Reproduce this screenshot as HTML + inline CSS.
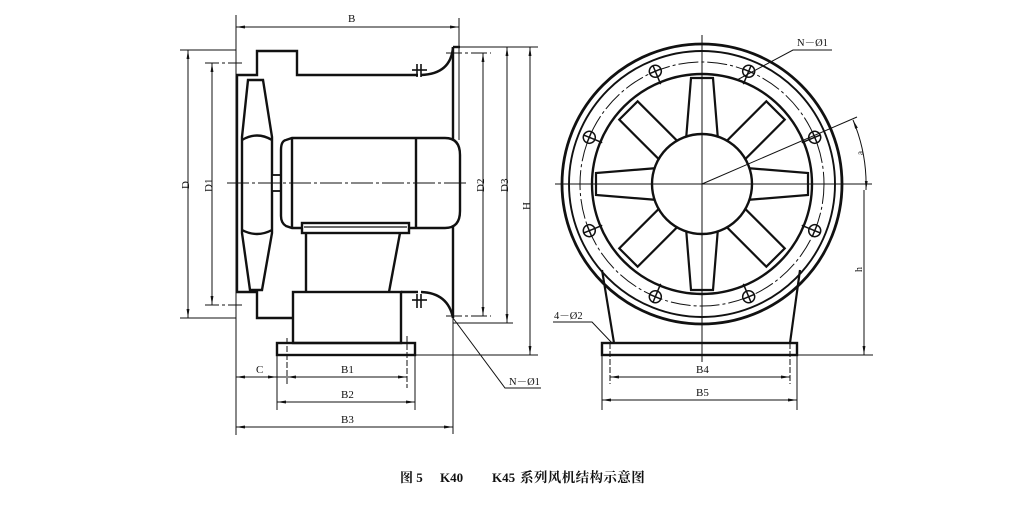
<!DOCTYPE html>
<html><head><meta charset="utf-8"><style>
html,body{margin:0;padding:0;background:#fff;}
svg{display:block;}
text{font-family:"Liberation Serif","Noto Serif CJK SC",serif;fill:#111;}
</style></head><body>
<svg width="1024" height="509" viewBox="0 0 1024 509" xmlns="http://www.w3.org/2000/svg">
<defs>
<marker id="a" viewBox="0 0 10 4" refX="10" refY="2" markerWidth="9" markerHeight="4" orient="auto-start-reverse" markerUnits="userSpaceOnUse">
<path d="M0,0.4 L10,2 L0,3.6 z" fill="#111"/></marker>
</defs>
<rect width="1024" height="509" fill="#fff"/>

<!-- thin lines left view (behind) -->
<g stroke="#111" stroke-width="1" fill="none">
 <line x1="236" y1="15" x2="236" y2="435"/>
 <line x1="459" y1="18" x2="459" y2="140"/>
 <line x1="453" y1="318" x2="453" y2="434"/>
</g>

<!-- ============ LEFT VIEW ============ -->
<g stroke="#111" stroke-width="2.4" fill="none" stroke-linejoin="miter">
 <!-- casing top -->
 <polyline points="236,75 257,75 257,51 297,51 297,75 418,75"/>
 <path d="M421,75 Q451,74 453,47"/>
 <line x1="453" y1="47" x2="460" y2="47"/>
 <line x1="453" y1="47" x2="453" y2="318"/>
 <!-- casing bottom -->
 <polyline points="236,292 257,292 257,318 293,318"/>
 <line x1="401" y1="292" x2="418" y2="292"/>
 <path d="M421,292 Q448,293 453,318"/>
 <!-- left wall -->
 <line x1="237" y1="75" x2="237" y2="292"/>
 <!-- fan blade -->
 <path d="M248,80 L263,80 L272,137 L272,233 L262,290 L250,290 L242,233 L242,137 Z" fill="#fff"/>
 <path d="M242,140 Q257,131 272,140"/>
 <path d="M242,230 Q257,238 272,230"/>
 <!-- shaft -->
 <rect x="272" y="175" width="9" height="16" stroke-width="1.8" fill="#fff"/>
 <!-- motor -->
 <path d="M292,138 L445,138 Q460,138 460,155 L460,211 Q460,228 445,228 L292,228 L286,226 Q281,223 281,216 L281,150 Q281,141 286,140 Z" fill="#fff"/>
 <line x1="292" y1="138" x2="292" y2="228"/>
 <line x1="416" y1="138" x2="416" y2="228"/>
 <!-- motor foot -->
 <rect x="302" y="223" width="107" height="10" fill="#fff"/>
 <line x1="304" y1="227" x2="407" y2="227" stroke-width="1.2"/>
 <!-- stand -->
 <line x1="306" y1="233" x2="306" y2="292"/>
 <line x1="400" y1="233" x2="389" y2="292"/>
 <rect x="293" y="292" width="108" height="51"/>
 <rect x="277" y="343" width="138" height="12"/>
</g>
<!-- flange marks -->
<g stroke="#111" stroke-width="1.6">
 <line x1="417" y1="64" x2="417" y2="77"/><line x1="421" y1="64" x2="421" y2="77"/>
 <line x1="412" y1="70" x2="427" y2="70"/>
 <line x1="417" y1="294" x2="417" y2="308"/><line x1="421" y1="294" x2="421" y2="308"/>
 <line x1="412" y1="300" x2="427" y2="300"/>
</g>
<!-- thin lines left view -->
<g stroke="#111" stroke-width="1" fill="none">
 <line x1="227" y1="183" x2="467" y2="183" stroke-dasharray="22,3,3,3"/>
 <!-- B -->
 <line x1="236" y1="27" x2="459" y2="27" marker-start="url(#a)" marker-end="url(#a)"/>
 <!-- D -->
 <line x1="180" y1="50" x2="236" y2="50"/>
 <line x1="180" y1="318" x2="236" y2="318"/>
 <line x1="188" y1="50" x2="188" y2="318" marker-start="url(#a)" marker-end="url(#a)"/>
 <!-- D1 -->
 <line x1="205" y1="63" x2="244" y2="63" stroke-dasharray="14,3,3,3"/>
 <line x1="205" y1="305" x2="244" y2="305" stroke-dasharray="14,3,3,3"/>
 <line x1="212" y1="63" x2="212" y2="305" marker-start="url(#a)" marker-end="url(#a)"/>
 <!-- D2 -->
 <line x1="446" y1="53" x2="491" y2="53" stroke-dasharray="16,3,3,3"/>
 <line x1="446" y1="316" x2="491" y2="316" stroke-dasharray="16,3,3,3"/>
 <line x1="483" y1="53" x2="483" y2="316" marker-start="url(#a)" marker-end="url(#a)"/>
 <!-- D3 / H -->
 <line x1="453" y1="47" x2="538" y2="47"/>
 <line x1="453" y1="323" x2="513" y2="323"/>
 <line x1="507" y1="47" x2="507" y2="323" marker-start="url(#a)" marker-end="url(#a)"/>
 <line x1="415" y1="355" x2="538" y2="355"/>
 <line x1="530" y1="47" x2="530" y2="355" marker-start="url(#a)" marker-end="url(#a)"/>
 <!-- N-Ø1 leader -->
 <polyline points="453,318 505,388 541,388"/>
 <!-- bottom dims -->
 <line x1="277" y1="355" x2="277" y2="410"/>
 <line x1="415" y1="355" x2="415" y2="410"/>
 <line x1="287" y1="338" x2="287" y2="386" stroke-dasharray="6,2"/>
 <line x1="407" y1="336" x2="407" y2="388" stroke-dasharray="6,2"/>
 <line x1="236" y1="377" x2="277" y2="377" marker-start="url(#a)" marker-end="url(#a)"/>
 <line x1="277" y1="377" x2="287" y2="377"/>
 <line x1="287" y1="377" x2="407" y2="377" marker-start="url(#a)" marker-end="url(#a)"/>
 <line x1="277" y1="402" x2="415" y2="402" marker-start="url(#a)" marker-end="url(#a)"/>
 <line x1="236" y1="427" x2="453" y2="427" marker-start="url(#a)" marker-end="url(#a)"/>
</g>
<g font-size="11">
 <text x="348" y="22">B</text>
 <text x="256" y="373">C</text>
 <text x="341" y="373">B1</text>
 <text x="341" y="398">B2</text>
 <text x="341" y="423">B3</text>
 <text transform="translate(189,189) rotate(-90)">D</text>
 <text transform="translate(212,192) rotate(-90)">D1</text>
 <text transform="translate(484,192) rotate(-90)">D2</text>
 <text transform="translate(508,192) rotate(-90)">D3</text>
 <text transform="translate(530,210) rotate(-90)">H</text>
 <text x="509" y="385" font-size="10.5">N－Ø1</text>
</g>

<!-- ============ RIGHT VIEW ============ -->
<g stroke="#111" fill="none">
 <!-- stand -->
 <line x1="602" y1="270" x2="614" y2="343" stroke-width="2.2"/>
 <line x1="800" y1="270" x2="790" y2="343" stroke-width="2.2"/>
 <rect x="602" y="343" width="195" height="12" stroke-width="2.4" fill="#fff"/>
 <circle cx="702" cy="184" r="140" stroke-width="2.8"/>
 <circle cx="702" cy="184" r="133" stroke-width="1.9"/>
 <circle cx="702" cy="184" r="122" stroke-width="1" stroke-dasharray="20,3,3,3"/>
 <circle cx="702" cy="184" r="110" stroke-width="2.4"/>
</g>
<!-- blades -->
<g stroke="#111" stroke-width="2.2" fill="#fff" transform="translate(702,184)">
 <polygon points="-16,-44 16,-44 11,-106 -11,-106"/>
 <polygon points="-16,-44 16,-44 11,-106 -11,-106" transform="rotate(90)"/>
 <polygon points="-16,-44 16,-44 11,-106 -11,-106" transform="rotate(180)"/>
 <polygon points="-16,-44 16,-44 11,-106 -11,-106" transform="rotate(270)"/>
 <polygon points="-13,-44 13,-44 13,-104 -13,-104" transform="rotate(45)"/>
 <polygon points="-13,-44 13,-44 13,-104 -13,-104" transform="rotate(135)"/>
 <polygon points="-13,-44 13,-44 13,-104 -13,-104" transform="rotate(225)"/>
 <polygon points="-13,-44 13,-44 13,-104 -13,-104" transform="rotate(315)"/>
 <circle cx="0" cy="0" r="50" stroke-width="2.4"/>
</g>
<!-- bolt holes -->
<g stroke="#111" stroke-width="1.5" fill="#fff" transform="translate(702,184)">
 <g transform="rotate(22.5)"><line x1="0" y1="-116" x2="0" y2="-108" /><circle cx="0" cy="-122" r="6"/><line x1="-6" y1="-122" x2="6" y2="-122"/><line x1="0" y1="-128" x2="0" y2="-116"/></g>
 <g transform="rotate(-22.5)"><line x1="0" y1="-116" x2="0" y2="-108" /><circle cx="0" cy="-122" r="6"/><line x1="-6" y1="-122" x2="6" y2="-122"/><line x1="0" y1="-128" x2="0" y2="-116"/></g>
 <g transform="rotate(67.5)"><line x1="0" y1="-116" x2="0" y2="-108" /><circle cx="0" cy="-122" r="6"/><line x1="-6" y1="-122" x2="6" y2="-122"/><line x1="0" y1="-128" x2="0" y2="-116"/></g>
 <g transform="rotate(-67.5)"><line x1="0" y1="-116" x2="0" y2="-108" /><circle cx="0" cy="-122" r="6"/><line x1="-6" y1="-122" x2="6" y2="-122"/><line x1="0" y1="-128" x2="0" y2="-116"/></g>
 <g transform="rotate(112.5)"><line x1="0" y1="-116" x2="0" y2="-108" /><circle cx="0" cy="-122" r="6"/><line x1="-6" y1="-122" x2="6" y2="-122"/><line x1="0" y1="-128" x2="0" y2="-116"/></g>
 <g transform="rotate(-112.5)"><line x1="0" y1="-116" x2="0" y2="-108" /><circle cx="0" cy="-122" r="6"/><line x1="-6" y1="-122" x2="6" y2="-122"/><line x1="0" y1="-128" x2="0" y2="-116"/></g>
 <g transform="rotate(157.5)"><line x1="0" y1="-116" x2="0" y2="-108" /><circle cx="0" cy="-122" r="6"/><line x1="-6" y1="-122" x2="6" y2="-122"/><line x1="0" y1="-128" x2="0" y2="-116"/></g>
 <g transform="rotate(-157.5)"><line x1="0" y1="-116" x2="0" y2="-108" /><circle cx="0" cy="-122" r="6"/><line x1="-6" y1="-122" x2="6" y2="-122"/><line x1="0" y1="-128" x2="0" y2="-116"/></g>
</g>
<!-- thin lines right view -->
<g stroke="#111" stroke-width="1" fill="none">
 <line x1="702" y1="35" x2="702" y2="362"/>
 <line x1="555" y1="184" x2="872" y2="184"/>
 <line x1="702" y1="184" x2="857" y2="117"/>
 <path d="M853,120 A166,166 0 0 1 866,190" marker-start="url(#a)" marker-end="url(#a)"/>
 <line x1="864" y1="190" x2="864" y2="355" marker-end="url(#a)"/>
 <line x1="797" y1="355" x2="873" y2="355"/>
 <!-- base dims -->
 <line x1="610" y1="343" x2="610" y2="384" stroke-dasharray="6,2"/>
 <line x1="790" y1="343" x2="790" y2="384" stroke-dasharray="6,2"/>
 <line x1="602" y1="355" x2="602" y2="410"/>
 <line x1="797" y1="355" x2="797" y2="410"/>
 <line x1="610" y1="377" x2="790" y2="377" marker-start="url(#a)" marker-end="url(#a)"/>
 <line x1="602" y1="400" x2="797" y2="400" marker-start="url(#a)" marker-end="url(#a)"/>
 <!-- leaders -->
 <polyline points="553,322 592,322 612,343"/>
 <polyline points="832,50 793,50 737,80"/>
</g>
<g font-size="11">
 <text x="696" y="373">B4</text>
 <text x="696" y="396">B5</text>
 <text x="554" y="319" font-size="10.5">4－Ø2</text>
 <text x="797" y="46" font-size="10.5">N－Ø1</text>
 <text transform="translate(862,272) rotate(-90)" font-size="10">h</text>
 <text transform="translate(863,155) rotate(-90)" font-size="9">a</text>
</g>

<!-- caption -->
<g font-size="13" font-weight="bold">
 <text x="400" y="482" font-family="'Liberation Serif','Noto Sans CJK SC',sans-serif">图 5</text>
 <text x="440" y="482">K40</text>
 <text x="492" y="482">K45</text>
 <text x="520" y="482" font-family="'Liberation Sans','Noto Sans CJK SC',sans-serif" font-size="13.5" letter-spacing="0.4">系列风机结构示意图</text>
</g>
</svg>
</body></html>
